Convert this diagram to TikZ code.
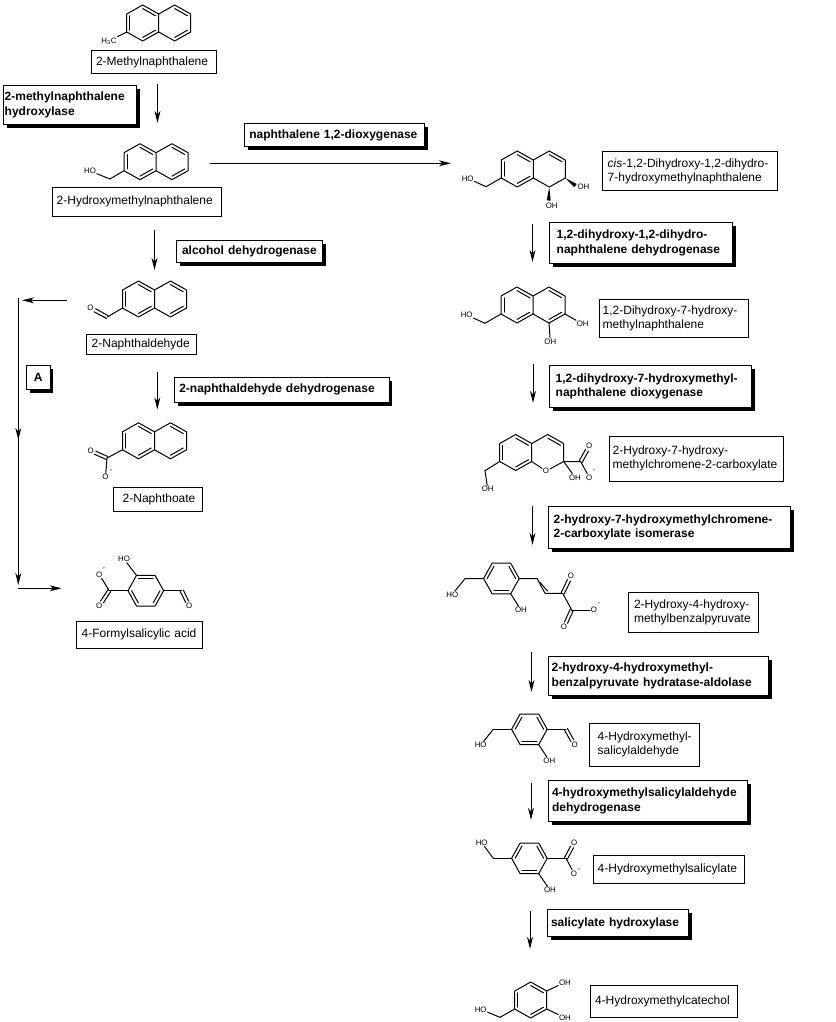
\documentclass[tikz,border=0pt]{standalone}
\usepackage{fontspec}
\setmainfont{Liberation Sans}
\usetikzlibrary{calc,arrows.meta,shadows}
\newdimen\pxu \pxu=0.75pt
\tikzset{
  bond/.style={line width=0.75pt,line cap=round,line join=round},
  rxn/.style={line width=0.75pt,-{Stealth[length=9pt,width=4.4pt,inset=2.6pt]}},
  atomlab/.style={inner sep=0.5pt,font=\fontsize{5.9}{6.5}\selectfont},
  namebox/.style={draw=black,line width=0.75pt,fill=white,inner xsep=0pt,inner ysep=0pt,align=left,
    font=\fontsize{9}{10.4}\selectfont},
  enzbox/.style={namebox,font=\fontsize{9}{11}\selectfont\bfseries,
    general shadow={fill=black,opacity=1,shadow xshift=2.5pt,shadow yshift=-2.5pt}},
}
% box: style, name, x1, y1, x2, y2, left padding, text
\newcommand\Bx[8]{%
  \pgfmathsetmacro\bw{(#5-#3)*0.75}\pgfmathsetmacro\bh{(#6-#4)*0.75}%
  \def\pd{\hspace*{#7\pxu}}%
  \node[#1,minimum width=\bw pt,minimum height=\bh pt,text width=\bw pt] (#2) at ({(#3+#5)/2},{(#4+#6)/2}) {#8};}
\newcommand\Bd[2]{\draw[bond] (#1) -- (#2);}
\newcommand\In[3]{\draw[bond] ($(#1)!.2!(#3)$) -- ($(#2)!.2!(#3)$);}
\newcommand\Cdb[2]{%
  \draw[bond,shorten >=3.6pt] ($(#1)!1.25pt!90:(#2)$) -- ($(#2)!1.25pt!-90:(#1)$);
  \draw[bond,shorten >=3.6pt] ($(#1)!1.25pt!-90:(#2)$) -- ($(#2)!1.25pt!90:(#1)$);}
\newcommand\At[4]{\node[atomlab] (#1) at (#2,#3) {#4};}
\newcommand\Cc[3]{\coordinate (#1) at (#2,#3);}
\newcommand\Rxn[5]{\coordinate (#1s) at (#2,#3);\coordinate (#1e) at (#4,#5);\draw[rxn] (#1s) -- (#1e);}
\newcommand\Wedge[2]{\fill ($(#1)$) -- ($(#2)!1.5pt!90:(#1)$) -- ($(#2)!1.5pt!-90:(#1)$) -- cycle;}
% naphthalene skeleton without the lower right corner
\newcommand\NaphBase[3]{%
  \begin{scope}[shift={(#2,#3)}]
  \coordinate (#1lt) at (-16,-18);\coordinate (#1lu) at (-32,-9);\coordinate (#1ll) at (-32,9);
  \coordinate (#1lb) at (-16,18);\coordinate (#1sa) at (0,-9);\coordinate (#1sb) at (0,9);
  \coordinate (#1rt) at (16,-18);\coordinate (#1ru) at (32,-9);\coordinate (#1rl) at (32,9);
  \coordinate (#1rb) at (16,18);\coordinate (#1cl) at (-16,0);\coordinate (#1cr) at (16,0);
  \end{scope}
  \draw[bond] (#1sa) -- (#1lt) -- (#1lu) -- (#1ll) -- (#1lb) -- (#1sb) -- (#1sa) -- (#1rt) -- (#1ru) -- (#1rl);
  \In{#1lu}{#1ll}{#1cl}\In{#1lt}{#1sa}{#1cl}\In{#1lb}{#1sb}{#1cl}\In{#1rt}{#1ru}{#1cr}}
\newcommand\Naph[3]{\NaphBase{#1}{#2}{#3}\draw[bond] (#1rl) -- (#1rb) -- (#1sb);}
% flat-topped benzene ring
\newcommand\Benz[3]{%
  \begin{scope}[shift={(#2,#3)}]
  \coordinate (#1tl) at (-9.3,-15.3);\coordinate (#1tr) at (9.3,-15.3);\coordinate (#1r) at (17.8,0);
  \coordinate (#1br) at (9.3,15.3);\coordinate (#1bl) at (-9.3,15.3);\coordinate (#1l) at (-17.8,0);
  \coordinate (#1c) at (0,0);
  \end{scope}
  \draw[bond] (#1tl) -- (#1tr) -- (#1r) -- (#1br) -- (#1bl) -- (#1l) -- cycle;}
\begin{document}
\begin{tikzpicture}[x=0.75pt,y=-0.75pt]
\path[use as bounding box,fill=white] (0,0) rectangle (836,1022);

% ---------- left column ----------
\Naph{A}{158.7}{23}\In{Arl}{Arb}{Acr}
\node[atomlab] (Ach) at (109,41) {H\textsubscript{3}C};
\Bd{All}{Ach}
\Bx{namebox}{nA}{91.3}{50.7}{216.7}{73.3}{4.7}{\pd 2-Methylnaphthalene}

\Naph{B}{156}{161.7}\In{Brl}{Brb}{Bcr}
\At{Bho}{90}{171}{HO}\Cc{Bc}{110}{179}
\Bd{Bll}{Bc}\Bd{Bc}{Bho}
\Bx{namebox}{nB}{52.7}{187.3}{221.7}{216}{4}{\pd 2-Hydroxymethylnaphthalene}

\Naph{C}{154.5}{299}\In{Crl}{Crb}{Ccr}
\At{Co}{90.5}{308}{O}\Cc{Cc}{107.3}{317}
\Bd{Cll}{Cc}\Cdb{Cc}{Co}
\Bx{namebox}{nC}{86.3}{334.3}{196.7}{354.3}{5.4}{\pd 2-Naphthaldehyde}

\Naph{D}{154.5}{440.8}\In{Drl}{Drb}{Dcr}
\At{Do}{90.7}{450.7}{O}\At{Dm}{105.5}{477}{O}\At{Dq}{111}{471}{-}\Cc{Dc}{107}{458}
\Bd{Dll}{Dc}\Cdb{Dc}{Do}\Bd{Dc}{Dm}
\Bx{namebox}{nD}{113.3}{487.3}{202.3}{511.3}{9.4}{\pd 2-Naphthoate}

\Benz{E}{145.8}{590.7}
\In{Etl}{Etr}{Ec}\In{Er}{Ebr}{Ec}\In{Ebl}{El}{Ec}
\At{Eho}{124}{559}{HO}\Bd{Etl}{Eho}
\Cc{Ec1}{109.3}{590.7}\Bd{El}{Ec1}
\At{Em}{99.3}{574.7}{O}\At{Eq}{104}{569}{-}\At{Eo}{99.3}{606}{O}
\Bd{Ec1}{Em}\Cdb{Ec1}{Eo}
\Cc{Ec2}{181.7}{590.7}\Bd{Er}{Ec2}
\At{Eo2}{189.3}{606}{O}\Cdb{Ec2}{Eo2}
\Bx{namebox}{nE}{76.3}{621.3}{202.3}{648.3}{5.4}{\pd 4-Formylsalicylic acid}

% ---------- right column ----------
\Naph{F}{533.3}{169}
\At{Fho}{467.7}{178.3}{HO}\Cc{Fc}{486}{186.7}
\Bd{Fll}{Fc}\Bd{Fc}{Fho}
\At{Fo1}{583.5}{187}{OH}\At{Fo2}{551.7}{205.6}{OH}
\Cc{Fw1}{575.5}{185.6}\Cc{Fw2}{548.7}{200.5}
\Wedge{Frl}{Fw1}\Wedge{Frb}{Fw2}
\Bx{namebox}{nF}{602.3}{151.3}{777.7}{190.7}{5.4}{\pd\textit{cis}-1,2-Dihydroxy-1,2-dihydro-\\\pd 7-hydroxymethylnaphthalene}

\Naph{G}{533}{305}\In{Grl}{Grb}{Gcr}
\At{Gho}{466.7}{315}{HO}\Cc{Gc}{485}{323.3}\Bd{Gll}{Gc}\Bd{Gc}{Gho}
\At{Go1}{582.7}{324}{OH}\At{Go2}{550.3}{341.7}{OH}
\Bd{Grl}{Go1}\Bd{Grb}{Go2}
\Bx{namebox}{nG}{599.3}{299.3}{748.3}{337.3}{3.4}{\pd 1,2-Dihydroxy-7-hydroxy-\\\pd methylnaphthalene}

\NaphBase{H}{531.7}{452.5}
\At{Hro}{546}{471}{O}\Bd{Hsb}{Hro}\Bd{Hrl}{Hro}
\Cc{Hc}{485}{470.7}\At{Hoh}{487.7}{489}{OH}\Bd{Hll}{Hc}\Bd{Hc}{Hoh}
\At{Ho2}{575}{477.3}{OH}\Bd{Hrl}{Ho2}
\Cc{Hc2}{580.7}{461.7}\Bd{Hrl}{Hc2}
\At{Ho3}{589.3}{446}{O}\At{Ho4}{589.3}{477.3}{O}\At{Hq}{594}{471.7}{-}
\Cdb{Hc2}{Ho3}\Bd{Hc2}{Ho4}
\Bx{namebox}{nH}{609.3}{436.3}{783.7}{481.3}{3.4}{\pd 2-Hydroxy-7-hydroxy-\\\pd methylchromene-2-carboxylate}

\Benz{I}{501.4}{578.5}
\In{Il}{Itl}{Ic}\In{Itr}{Ir}{Ic}\In{Ibl}{Ibr}{Ic}
\Cc{Ic1}{465}{578.7}\At{Iho}{452.3}{594.3}{HO}\Bd{Il}{Ic1}\Bd{Ic1}{Iho}
\At{Ioh}{521}{610}{OH}\Bd{Ibr}{Ioh}
\Cc{Ia}{537.3}{578.7}\Cc{Ib}{545}{593.3}\Cc{Id}{562.7}{593.3}\Cc{Ie}{571.7}{610}
\draw[bond] (Ir) -- (Ia) -- (Ib) -- (Id) -- (Ie);
\draw[bond] ($(Ia)+(2.6,3.6)$) -- ($(Ib)+(2.6,-2.2)$);
\At{Io1}{571}{576}{O}\At{Io2}{594}{610}{O}\At{Iq}{599}{604.3}{-}\At{Io3}{564}{627}{O}
\Cdb{Id}{Io1}\Bd{Ie}{Io2}\Cdb{Ie}{Io3}
\Bx{namebox}{nI}{628.3}{592.3}{758.7}{632.3}{5.7}{\pd 2-Hydroxy-4-hydroxy-\\\pd methylbenzalpyruvate}

\Benz{J}{529.4}{729.3}
\In{Jl}{Jtl}{Jc}\In{Jtr}{Jr}{Jc}\In{Jbl}{Jbr}{Jc}
\Cc{Jc1}{493.3}{729.3}\At{Jho}{480.7}{745}{HO}\Bd{Jl}{Jc1}\Bd{Jc1}{Jho}
\At{Joh}{549.3}{760.7}{OH}\Bd{Jbr}{Joh}
\Cc{Jc2}{566}{729.3}\At{Jo}{574.7}{745}{O}\Bd{Jr}{Jc2}\Cdb{Jc2}{Jo}
\Bx{namebox}{nJ}{589.3}{723.3}{699.7}{766.3}{8.4}{\pd 4-Hydroxymethyl-\\\pd salicylaldehyde}

\Benz{K}{529.4}{858.3}
\In{Kl}{Ktl}{Kc}\In{Ktr}{Kr}{Kc}\In{Kbl}{Kbr}{Kc}
\Cc{Kc1}{493.3}{858.3}\At{Kho}{481.7}{842.7}{HO}\Bd{Kl}{Kc1}\Bd{Kc1}{Kho}
\At{Koh}{550}{890}{OH}\Bd{Kbr}{Koh}
\Cc{Kc2}{566}{858.3}\At{Ko}{574.3}{842.7}{O}\At{Km}{574}{873.3}{O}\At{Kq}{579}{870.7}{-}
\Bd{Kr}{Kc2}\Cdb{Kc2}{Ko}\Bd{Kc2}{Km}
\Bx{namebox}{nK}{593.3}{855.3}{744.3}{883.3}{4.4}{\pd 4-Hydroxymethylsalicylate}

\begin{scope}[shift={(530.7,1000)}]
  \coordinate (Lt) at (0,-18);\coordinate (Lur) at (16,-9);\coordinate (Llr) at (16,9);
  \coordinate (Lb) at (0,18);\coordinate (Lll) at (-16,9);\coordinate (Lul) at (-16,-9);
  \coordinate (Lc) at (0,0);
\end{scope}
\draw[bond] (Lt) -- (Lur) -- (Llr) -- (Lb) -- (Lll) -- (Lul) -- cycle;
\In{Lt}{Lur}{Lc}\In{Llr}{Lb}{Lc}\In{Lll}{Lul}{Lc}
\Cc{Lc1}{500}{1017.3}\At{Lho}{480.7}{1009.3}{HO}\Bd{Lll}{Lc1}\Bd{Lc1}{Lho}
\At{Lo1}{565}{982.3}{OH}\At{Lo2}{565}{1017.7}{OH}\Bd{Lur}{Lo1}\Bd{Llr}{Lo2}
\Bx{namebox}{nL}{590.3}{985.3}{737.3}{1017.3}{4.7}{\pd 4-Hydroxymethylcatechol}

% ---------- enzymes ----------
\Bx{enzbox}{e1}{3.3}{85.3}{136.7}{124.7}{1.4}{\pd 2-methylnaphthalene\\\pd hydroxylase}
\Bx{enzbox}{e2}{244.3}{123.3}{424.7}{146.7}{5}{\pd naphthalene 1,2-dioxygenase}
\Bx{enzbox}{e3}{176.3}{240.3}{322.7}{262.7}{5.7}{\pd alcohol dehydrogenase}
\Bx{enzbox}{e4}{174.7}{377.3}{389}{402.3}{4.6}{\pd 2-naphthaldehyde dehydrogenase}
\Bx{enzbox}{e5}{549.3}{222.3}{732.7}{263.3}{7.4}{\pd 1,2-dihydroxy-1,2-dihydro-\\\pd naphthalene dehydrogenase}
\Bx{enzbox}{e6}{549.3}{365.3}{751.7}{407.3}{6.4}{\pd 1,2-dihydroxy-7-hydroxymethyl-\\\pd naphthalene dioxygenase}
\Bx{enzbox}{e7}{548.3}{506.7}{790.3}{548.3}{5.4}{\pd 2-hydroxy-7-hydroxymethylchromene-\\\pd 2-carboxylate isomerase}
\Bx{enzbox}{e8}{548.3}{656.7}{768.7}{695.3}{3.4}{\pd 2-hydroxy-4-hydroxymethyl-\\\pd benzalpyruvate hydratase-aldolase}
\Bx{enzbox}{e9}{548.3}{780.3}{747.3}{821.3}{3.7}{\pd 4-hydroxymethylsalicylaldehyde\\\pd dehydrogenase}
\Bx{enzbox}{e10}{547.3}{909.3}{688.3}{936.7}{3.7}{\pd salicylate hydroxylase}
\Bx{enzbox}{eA}{26.3}{365.3}{50}{389.3}{7.5}{\pd A}

% ---------- reaction arrows ----------
\Rxn{r1}{157.5}{84}{157.5}{123}
\Rxn{r2}{210}{163.3}{451}{163.3}
\Rxn{r3}{154.5}{230}{154.5}{270}
\Rxn{r4}{157.3}{372.3}{157.3}{409.5}
\Rxn{r5}{66.7}{300.3}{22}{300.3}
\Rxn{r6}{18.3}{298}{18.3}{440}
\Rxn{r7}{18.3}{438}{18.3}{585}
\Rxn{r8}{18.3}{588.3}{61.7}{588.3}
\Rxn{r9}{532.5}{224}{532.5}{262}
\Rxn{r10}{533}{364}{533}{403}
\Rxn{r11}{532.5}{506}{532.5}{545}
\Rxn{r12}{531.5}{652}{531.5}{692}
\Rxn{r13}{531}{783}{531}{820}
\Rxn{r14}{530}{910.7}{530}{949}
\end{tikzpicture}
\end{document}
